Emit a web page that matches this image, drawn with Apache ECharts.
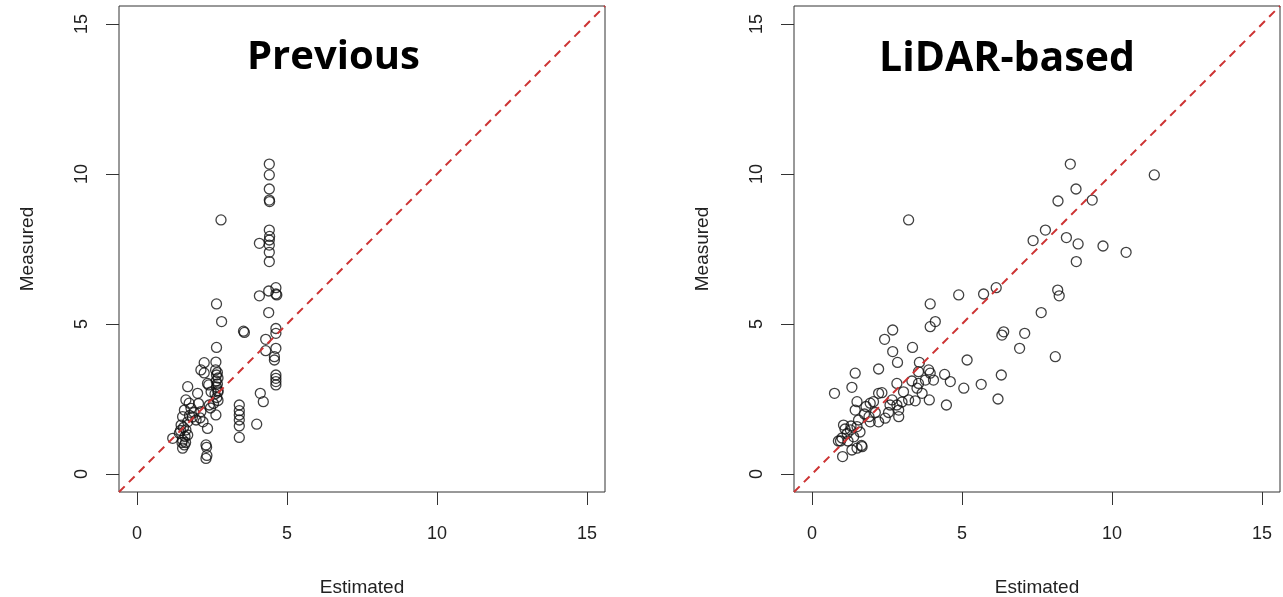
<!DOCTYPE html>
<html>
<head>
<meta charset="utf-8">
<script src="https://cdn.jsdelivr.net/npm/echarts@6/dist/echarts.min.js"></script>
<style>
  html, body { margin: 0; padding: 0; background: #fff; }
  #chart { width: 1283px; height: 597px; }
</style>
</head>
<body>
<div id="chart"></div>
<script>
// tick labels (both axes, both panels)
const tickValues = [0, 5, 10, 15];
const axisMin = -0.6, axisMax = 15.6;

// panel titles
const panelTitles = ['Previous', 'LiDAR-based'];

// Previous: estimated vs measured
const prevEstimated = [
  4.41, 4.41, 4.41, 4.41, 4.42, 4.41, 4.42, 4.41, 4.08, 4.41, 4.41, 4.41, 4.63, 4.39, 4.63, 4.66,
  4.08, 4.39, 4.63, 4.63, 4.29, 4.63, 4.29, 4.58, 4.58, 4.63, 4.63, 4.63, 4.63, 4.11, 4.21, 3.99,
  2.80, 2.65, 2.82, 3.55, 3.58, 3.41, 3.41, 3.41, 3.41, 3.41, 3.41,
  2.65, 2.24, 2.63, 2.13, 2.24, 2.62, 2.68, 2.65, 2.70, 2.64, 2.68, 2.65, 2.70, 2.60, 2.66, 2.70,
  2.35, 1.69, 2.02, 1.63, 1.74, 2.41, 2.47, 2.39, 2.70, 1.58, 1.80, 2.13, 2.63, 1.52, 1.69, 1.97,
  2.35, 1.47, 1.63, 1.41, 1.69, 1.19, 1.52, 1.58, 1.52, 2.30, 2.32, 2.30, 2.33, 1.85, 1.55, 1.60,
  1.50, 2.10, 2.20, 1.90, 1.75, 1.45, 1.62, 2.05, 2.55, 2.45
];
const prevMeasured = [
  10.33, 9.97, 9.50, 9.13, 9.08, 8.13, 7.92, 7.80, 7.69, 7.63, 7.39, 7.08, 6.21, 6.10, 6.00, 5.97,
  5.94, 5.38, 4.85, 4.69, 4.49, 4.19, 4.11, 3.91, 3.80, 3.30, 3.19, 3.08, 2.97, 2.69, 2.41, 1.66,
  8.47, 5.67, 5.08, 4.76, 4.72, 2.30, 2.11, 1.97, 1.80, 1.60, 1.22,
  4.22, 3.71, 3.73, 3.47, 3.37, 3.47, 3.38, 3.30, 3.20, 3.10, 3.00, 2.90, 2.78, 2.67, 2.55, 2.45,
  3.02, 2.91, 2.69, 2.47, 2.36, 2.30, 2.74, 2.97, 2.73, 2.13, 2.19, 2.08, 1.97, 1.91, 1.74, 1.80,
  1.52, 1.63, 1.47, 1.36, 1.30, 1.19, 1.13, 0.97, 0.86, 0.97, 0.89, 0.52, 0.62, 1.90, 1.55, 1.25,
  1.05, 1.87, 1.74, 2.05, 1.95, 1.45, 1.05, 2.35, 2.35, 2.20
];

// LiDAR-based: estimated vs measured
const lidarEstimated = [
  3.22, 3.94, 4.11, 3.94, 4.89, 5.72, 2.69, 8.61, 11.41, 8.80, 8.20, 9.34, 7.78, 7.37, 8.48, 8.87,
  9.70, 10.47, 8.81, 6.14, 8.19, 8.24, 7.64, 6.39, 6.33, 7.09, 6.92, 8.11, 5.17, 6.31, 5.06, 5.64,
  6.20, 2.42, 2.69, 3.35, 2.85, 3.58, 1.44, 2.22, 0.75, 1.33, 3.55, 3.89, 3.94, 4.42, 4.61, 3.33,
  3.55, 3.78, 4.05, 3.50, 3.67, 3.91, 4.48, 3.44, 2.83, 3.05, 3.22, 2.67, 2.83, 2.89, 2.89, 2.22,
  2.33, 1.50, 1.94, 2.05, 1.44, 1.80, 2.11, 1.90, 2.44, 2.22, 1.94, 1.55, 1.50, 1.28, 1.05, 1.10,
  1.17, 1.00, 0.95, 1.39, 1.50, 1.67, 1.65, 1.33, 1.02, 0.88, 1.20, 1.30, 1.60, 1.75, 2.55, 2.60,
  3.00
];
const lidarMeasured = [
  8.47, 5.67, 5.08, 4.91, 5.97, 6.00, 4.80, 10.33, 9.97, 9.50, 9.10, 9.13, 8.13, 7.78, 7.88, 7.67,
  7.60, 7.39, 7.08, 6.21, 6.13, 5.94, 5.38, 4.74, 4.63, 4.69, 4.19, 3.91, 3.80, 3.30, 2.86, 2.99,
  2.50, 4.49, 4.08, 4.22, 3.72, 3.72, 3.36, 3.50, 2.69, 2.89, 3.41, 3.47, 3.36, 3.32, 3.08, 3.10,
  3.02, 3.13, 3.13, 2.86, 2.69, 2.47, 2.30, 2.44, 3.02, 2.74, 2.47, 2.47, 2.30, 2.13, 1.91, 2.69,
  2.71, 2.41, 2.36, 2.41, 2.13, 2.25, 2.05, 1.91, 1.86, 1.74, 1.74, 1.80, 1.58, 1.47, 1.63, 1.50,
  1.35, 1.20, 1.10, 1.24, 0.86, 0.91, 0.95, 0.80, 0.58, 1.10, 1.10, 1.60, 1.40, 2.00, 2.05, 2.30,
  2.40
];

const pair = (xs, ys) => xs.map((x, i) => [x, ys[i]]);

const chart = echarts.init(document.getElementById('chart'));

const grids = [
  { left: 119, top: 6, width: 486, height: 486 },
  { left: 794, top: 6, width: 486, height: 486 }
];

function xAxisFor(idx) {
  return {
    gridIndex: idx, type: 'value', min: axisMin, max: axisMax,
    name: 'Estimated', nameLocation: 'middle', nameGap: 86,
    nameTextStyle: { fontFamily: 'Liberation Sans', fontSize: 19, color: '#222' },
    axisLine: { show: false, onZero: false },
    splitLine: { show: false },
    axisTick: { show: true, inside: false, length: 13, customValues: tickValues, lineStyle: { color: '#333' } },
    axisLabel: { customValues: tickValues, margin: 33, fontFamily: 'Liberation Sans', fontSize: 18, color: '#222' }
  };
}
function yAxisFor(idx) {
  return {
    gridIndex: idx, type: 'value', min: axisMin, max: axisMax,
    name: 'Measured', nameLocation: 'middle', nameGap: 82, nameRotate: 90,
    nameTextStyle: { fontFamily: 'Liberation Sans', fontSize: 19, color: '#222' },
    axisLine: { show: false, onZero: false },
    splitLine: { show: false },
    axisTick: { show: true, inside: false, length: 13, customValues: tickValues, lineStyle: { color: '#333' } },
    axisLabel: { customValues: tickValues, rotate: 90, margin: 28, fontFamily: 'Liberation Sans', fontSize: 18, color: '#222' }
  };
}

const pointStyle = { color: 'transparent', borderColor: '#111', borderWidth: 1.3 };
const lineStyle = { color: '#cd3333', width: 2, type: [8, 6] };

const option = {
  animation: false,
  grid: grids.map(g => Object.assign({ show: true, borderColor: '#333', borderWidth: 1, backgroundColor: '#fff', outerBoundsMode: 'none', containLabel: false }, g)),
  xAxis: [xAxisFor(0), xAxisFor(1)],
  yAxis: [yAxisFor(0), yAxisFor(1)],
  graphic: [
    { type: 'text', left: 247, top: 38, style: { text: panelTitles[0], font: 'bold 40px "Open Sans"', fill: '#000' } },
    { type: 'text', left: 879, top: 39, style: { text: panelTitles[1], font: 'bold 41px "Open Sans"', fill: '#000' } }
  ],
  series: [
    { type: 'line', xAxisIndex: 0, yAxisIndex: 0, data: [[axisMin, axisMin], [axisMax, axisMax]], symbol: 'none', lineStyle: lineStyle, silent: true },
    { type: 'scatter', xAxisIndex: 0, yAxisIndex: 0, data: pair(prevEstimated, prevMeasured), symbol: 'circle', symbolSize: 10, itemStyle: pointStyle },
    { type: 'line', xAxisIndex: 1, yAxisIndex: 1, data: [[axisMin, axisMin], [axisMax, axisMax]], symbol: 'none', lineStyle: lineStyle, silent: true },
    { type: 'scatter', xAxisIndex: 1, yAxisIndex: 1, data: pair(lidarEstimated, lidarMeasured), symbol: 'circle', symbolSize: 10, itemStyle: pointStyle }
  ]
};

chart.setOption(option);
window.addEventListener('resize', () => { chart.resize(); });
</script>
</body>
</html>
